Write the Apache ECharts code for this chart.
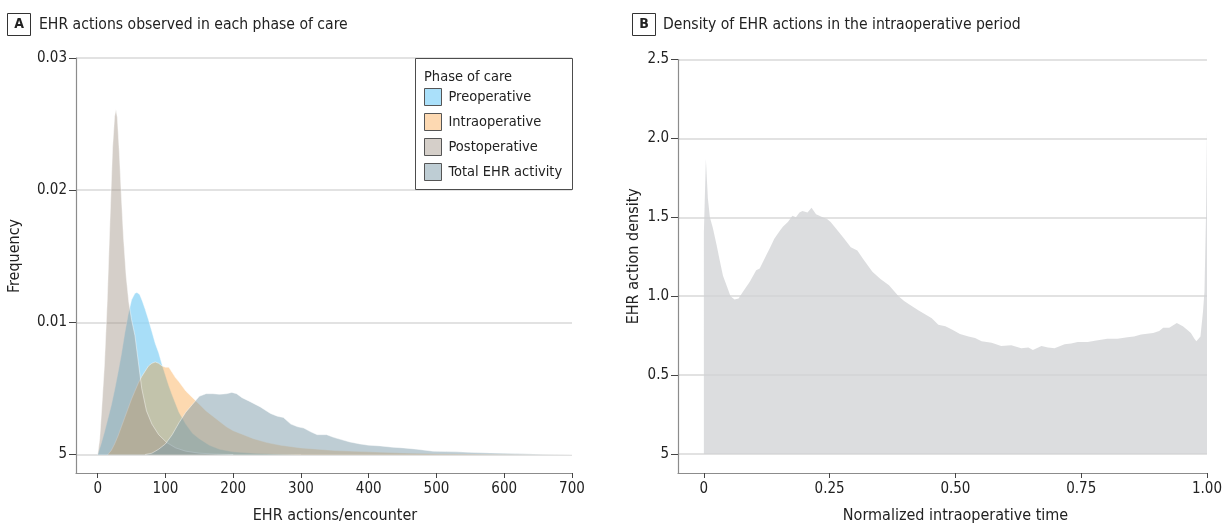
<!DOCTYPE html>
<html>
<head>
<meta charset="utf-8">
<script src="https://cdn.jsdelivr.net/npm/echarts@6/dist/echarts.min.js"></script>
<style>
html,body{margin:0;padding:0;background:#fff;}
#c{width:1225px;height:529px;}
</style>
</head>
<body>
<div id="c"></div>
<script>
const FONT = "'Liberation Sans Narrow','DejaVu Sans Condensed','Roboto Condensed',Roboto,sans-serif";

// ---------- Panel A data (EHR actions per encounter vs frequency) ----------
const preX  = [0,5,10,15,20,25,30,35,40,45,50,55,58,62,66,70,75,80,85,90,95,100,105,110,120,130,140,150,165,180,200,230,260,300];
const preY  = [0,0.0008,0.0017,0.0027,0.0037,0.0049,0.0062,0.0076,0.0092,0.0106,0.0117,0.0122,0.01226,0.0121,0.0116,0.0110,0.0102,0.0093,0.0084,0.0077,0.0068,0.0060,0.0052,0.0045,0.0032,0.0023,0.0016,0.0012,0.0007,0.0004,0.0002,0.0001,0.00004,0];

const intraX = [15,20,25,30,35,40,45,50,55,60,65,70,75,80,85,90,95,100,105,110,115,120,130,140,150,160,170,180,190,200,215,230,250,270,300,350,400,450,500,550,600,700];
const intraY = [0,0.0003,0.0008,0.0014,0.0021,0.0028,0.0035,0.0042,0.0048,0.0054,0.0059,0.0063,0.0067,0.0069,0.0070,0.0069,0.0067,0.0066,0.0066,0.0062,0.0058,0.0055,0.0048,0.0043,0.0038,0.0033,0.0029,0.0025,0.0021,0.0018,0.0015,0.0012,0.0009,0.0007,0.0005,0.0003,0.0002,0.00012,0.00006,0.00003,0.00001,0];

const postX = [0,3,6,10,14,18,22,25,27,29,32,35,38,42,46,50,55,60,65,72,80,90,102,115,130,150,175,200];
const postY = [0,0.0012,0.0035,0.0068,0.0115,0.0175,0.0232,0.0256,0.0261,0.0255,0.0228,0.0195,0.0165,0.0135,0.0115,0.0102,0.0090,0.0070,0.0050,0.0033,0.0023,0.0015,0.0009,0.0005,0.00025,0.0001,0.00003,0];

const totX = [70,80,90,100,110,120,130,140,150,160,170,180,190,198,205,213,225,240,255,265,274,285,295,304,315,324,338,348,358,372,387,400,417,435,451,471,495,515,530,555,579,600,627,660,700];
const totY = [0,0.0001,0.0004,0.0008,0.0015,0.0024,0.0032,0.0038,0.0044,0.0046,0.0046,0.00455,0.0046,0.0047,0.0046,0.0043,0.0040,0.0036,0.0031,0.0029,0.0028,0.0023,0.0021,0.0020,0.0017,0.0015,0.0015,0.0013,0.00115,0.00095,0.0008,0.0007,0.00065,0.00055,0.0005,0.0004,0.00025,0.00022,0.0002,0.00015,0.00012,0.00009,0.00005,0.00002,0];

const aTicksX = [0,100,200,300,400,500,600,700];
const aTicksY = [0,0.01,0.02,0.03];

// ---------- Panel B data (density over normalized intraoperative time) ----------
const bT = [0,0.004,0.008,0.012,0.018,0.025,0.032,0.038,0.045,0.053,0.061,0.069,0.078,0.091,0.104,0.111,0.124,0.132,0.140,0.150,0.157,0.167,0.176,0.183,0.190,0.196,0.206,0.214,0.223,0.236,0.245,0.252,0.265,0.279,0.292,0.305,0.318,0.335,0.351,0.368,0.387,0.398,0.410,0.427,0.443,0.453,0.466,0.480,0.493,0.509,0.526,0.539,0.552,0.572,0.591,0.611,0.631,0.645,0.654,0.671,0.684,0.697,0.717,0.730,0.743,0.763,0.780,0.802,0.822,0.842,0.855,0.869,0.893,0.905,0.913,0.925,0.940,0.952,0.960,0.968,0.975,0.979,0.987,0.992,0.995,0.998,1.000];
const bV = [1.40,1.87,1.62,1.50,1.43,1.33,1.22,1.13,1.07,1.00,0.98,0.985,1.03,1.09,1.165,1.175,1.26,1.31,1.365,1.41,1.44,1.47,1.51,1.50,1.53,1.54,1.53,1.56,1.52,1.50,1.49,1.47,1.42,1.365,1.31,1.29,1.23,1.155,1.11,1.07,1.00,0.97,0.945,0.91,0.88,0.86,0.82,0.81,0.79,0.76,0.745,0.735,0.715,0.705,0.685,0.69,0.67,0.675,0.66,0.685,0.675,0.67,0.695,0.70,0.71,0.71,0.72,0.73,0.73,0.74,0.745,0.757,0.767,0.78,0.80,0.80,0.83,0.81,0.79,0.767,0.73,0.715,0.745,0.90,1.03,1.50,2.06];
const bTicksX = [0,0.25,0.5,0.75,1];
const bTicksY = [0,0.5,1,1.5,2,2.5];

// ---------- helpers ----------
function zip(xs, ys){ return xs.map((x,i)=>[x, ys[i]]); }

function densityArea(name, xs, ys, fill, opacity){
  const data = zip(xs, ys);
  const n = data.length;
  return {
    type:'custom', name:name, xAxisIndex:0, yAxisIndex:0,
    data:data, encode:{x:0, y:1}, animation:false, silent:true,
    renderItem:function(params, api){
      if (params.dataIndex !== 0) return null;
      const pts = [];
      for (let i=0;i<n;i++) pts.push(api.coord([api.value(0,i), api.value(1,i)]));
      const b0 = api.coord([api.value(0,0), 0]);
      const b1 = api.coord([api.value(0,n-1), 0]);
      return {
        type:'group',
        children:[
          {type:'polygon', shape:{points:[b0].concat(pts,[b1])},
           style:{fill:fill, opacity:opacity, stroke:null}},
          {type:'polyline', shape:{points:pts},
           style:{fill:null, stroke:'rgba(255,255,255,0.55)', lineWidth:0.8}}
        ]
      };
    }
  };
}

const labelStyle = {fontSize:15, color:'#222', fontFamily:FONT};
const nameStyle = {fontSize:16, color:'#222', fontFamily:FONT};
const axisLineStyle = {show:true, onZero:false, lineStyle:{color:'#8c8c8c', width:1.2}};
const gridLine = {show:true, lineStyle:{color:'#d9d9d9', width:1.5}};

const chart = echarts.init(document.getElementById('c'), null, {renderer:'canvas'});

chart.setOption({
  backgroundColor:'#ffffff',
  animation:false,
  grid:[
    {left:76, right:653, top:58, bottom:53, containLabel:false},
    {left:678, right:15, top:59.5, bottom:53, containLabel:false}
  ],
  xAxis:[
    {type:'value', gridIndex:0, min:-32, max:700,
     axisLine:axisLineStyle,
     axisTick:{show:true, length:5, lineStyle:{color:'#444'}, customValues:aTicksX},
     axisLabel:Object.assign({customValues:aTicksX, margin:9}, labelStyle),
     splitLine:{show:false},
     name:'EHR actions/encounter', nameLocation:'middle', nameGap:35,
     nameTextStyle:Object.assign({padding:[0,0,0,22]}, nameStyle)},
    {type:'value', gridIndex:1, min:-0.0514, max:1,
     axisLine:axisLineStyle,
     axisTick:{show:true, length:5, lineStyle:{color:'#444'}, customValues:bTicksX},
     axisLabel:Object.assign({customValues:bTicksX, margin:9,
       formatter:function(v){ return v===0 ? '0' : v.toFixed(2); }}, labelStyle),
     splitLine:{show:false},
     name:'Normalized intraoperative time', nameLocation:'middle', nameGap:35,
     nameTextStyle:Object.assign({padding:[0,0,0,26]}, nameStyle)}
  ],
  yAxis:[
    {type:'value', gridIndex:0, min:-0.0014, max:0.03,
     axisLine:axisLineStyle,
     axisTick:{show:true, length:7, lineStyle:{color:'#444'}, customValues:aTicksY},
     axisLabel:Object.assign({customValues:aTicksY, margin:9,
       formatter:function(v){ return v===0 ? '5' : String(Math.round(v*100)/100); }}, labelStyle),
     splitLine:gridLine,
     name:'Frequency', nameLocation:'middle', nameGap:53,
     nameTextStyle:Object.assign({padding:[0,0,0,19]}, nameStyle)},
    {type:'value', gridIndex:1, min:-0.12, max:2.5,
     axisLine:axisLineStyle,
     axisTick:{show:true, length:7, lineStyle:{color:'#444'}, customValues:bTicksY},
     axisLabel:Object.assign({customValues:bTicksY, margin:9,
       formatter:function(v){ return v===0 ? '5' : v.toFixed(1); }}, labelStyle),
     splitLine:gridLine,
     name:'EHR action density', nameLocation:'middle', nameGap:36,
     nameTextStyle:Object.assign({padding:[0,0,0,20]}, nameStyle)}
  ],
  legend:{
    left:424, top:88, orient:'vertical', icon:'rect',
    itemWidth:17, itemHeight:17, itemGap:7, padding:0,
    selectedMode:false, z:12,
    itemStyle:{borderColor:'#555', borderWidth:1},
    textStyle:{fontSize:14.5, color:'#222', fontFamily:FONT, padding:[0,0,0,2]},
    data:[
      {name:'Preoperative', itemStyle:{color:'#aae0fa'}},
      {name:'Intraoperative', itemStyle:{color:'#fdd9b2'}},
      {name:'Postoperative', itemStyle:{color:'#d5cfc9'}},
      {name:'Total EHR activity', itemStyle:{color:'#becdd4'}}
    ]
  },
  graphic:[
    {type:'rect', z:10, shape:{x:415.5, y:58.5, width:157, height:131},
     style:{fill:'#fff', stroke:'#4d4d4d', lineWidth:1}},
    {type:'text', z:11, x:424, y:77,
     style:{text:'Phase of care', fontSize:14.5, fontFamily:FONT, fill:'#222', align:'left', verticalAlign:'middle'}},
    {type:'rect', z:10, shape:{x:7.5, y:13.5, width:23, height:22},
     style:{fill:'#fff', stroke:'#333', lineWidth:1}},
    {type:'text', z:11, x:19, y:24.5,
     style:{text:'A', fontSize:14, fontWeight:'bold', fontFamily:FONT, fill:'#222', align:'center', verticalAlign:'middle'}},
    {type:'text', z:11, x:39, y:24.5,
     style:{text:'EHR actions observed in each phase of care', fontSize:15.6, fontFamily:FONT, fill:'#222', align:'left', verticalAlign:'middle'}},
    {type:'rect', z:10, shape:{x:632.5, y:13.5, width:23, height:22},
     style:{fill:'#fff', stroke:'#333', lineWidth:1}},
    {type:'text', z:11, x:644, y:24.5,
     style:{text:'B', fontSize:14, fontWeight:'bold', fontFamily:FONT, fill:'#222', align:'center', verticalAlign:'middle'}},
    {type:'text', z:11, x:663, y:24.5,
     style:{text:'Density of EHR actions in the intraoperative period', fontSize:15.6, fontFamily:FONT, fill:'#222', align:'left', verticalAlign:'middle'}}
  ],
  series:[
    densityArea('Preoperative', preX, preY, 'rgb(146,214,246)', 0.8),
    densityArea('Intraoperative', intraX, intraY, 'rgb(249,140,15)', 0.33),
    densityArea('Postoperative', postX, postY, 'rgb(162,148,135)', 0.45),
    densityArea('Total EHR activity', totX, totY, 'rgb(125,155,169)', 0.5),
    {type:'line', name:'Intraoperative density', xAxisIndex:1, yAxisIndex:1,
     data:zip(bT, bV), showSymbol:false, symbol:'none', silent:true,
     lineStyle:{width:0, opacity:0},
     areaStyle:{color:'rgba(208,210,212,0.75)', opacity:1}}
  ]
});
</script>
</body>
</html>
